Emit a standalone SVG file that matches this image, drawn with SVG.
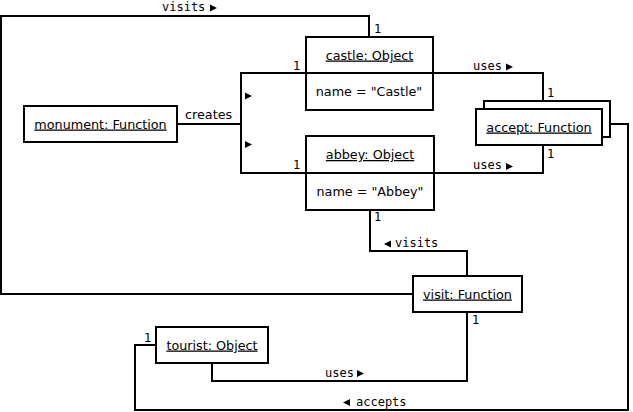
<svg xmlns="http://www.w3.org/2000/svg" width="633" height="412" viewBox="0 0 633 412">
<style>
.box{fill:#fff;stroke:#000;stroke-width:2}
.ln{fill:none;stroke:#000;stroke-width:2}
.t{font-family:"DejaVu Sans",sans-serif;font-size:12.75px;fill:#000}
.u{text-decoration:underline}
.m{font-family:"DejaVu Sans Mono",monospace;font-size:12px;fill:#000}
.a{fill:#000}
</style>
<rect width="633" height="412" fill="#fff"/>
<g id="connectors">
<polyline class="ln" points="369,37 369,16 1,16 1,294 412,294"/>
<polyline class="ln" points="177,124 241,124"/>
<polyline class="ln" points="306,73 241,73 241,173 306,173"/>
<polyline class="ln" points="433,73 543,73 543,101"/>
<polyline class="ln" points="434,173 543,173 543,145"/>
<polyline class="ln" points="370,210 370,251 467,251 467,276"/>
<polyline class="ln" points="467,312 467,381 212,381 212,363"/>
<polyline class="ln" points="156,345 135,345 135,410 628,410 628,124 610,124"/>
<text class="m" x="162" y="11">visits</text>
<polygon class="a" points="210,4.5 217,8 210,11.5"/>
<text class="m" x="374" y="33">1</text>
<text class="t" x="185" y="119">creates</text>
<polygon class="a" points="245,92.5 252,96 245,99.5"/>
<polygon class="a" points="245,141 252,144.5 245,148"/>
<text class="m" x="293" y="70">1</text>
<text class="m" x="293" y="169">1</text>
<text class="m" x="473" y="70">uses</text>
<polygon class="a" points="506,63.5 513,67 506,70.5"/>
<text class="m" x="547" y="97">1</text>
<text class="m" x="473" y="169">uses</text>
<polygon class="a" points="506,163 513,166.5 506,170"/>
<text class="m" x="547" y="158">1</text>
<text class="m" x="374" y="221">1</text>
<polygon class="a" points="391,240.5 384,244 391,247.5"/>
<text class="m" x="395" y="247">visits</text>
<text class="m" x="472" y="324">1</text>
<text class="m" x="325" y="377">uses</text>
<polygon class="a" points="357,370 364,373.5 357,377"/>
<text class="m" x="144" y="342">1</text>
<polygon class="a" points="350,399 343,402.5 350,406"/>
<text class="m" x="356" y="406">accepts</text>
</g>
<g id="monument">
<rect class="box" x="24" y="106" width="153" height="36"/>
<text class="t u" x="100.5" y="128.5" text-anchor="middle">monument: Function</text>
</g>
<g id="castle">
<rect class="box" x="306" y="37" width="127" height="73"/>
<line class="ln" x1="306" y1="73" x2="433" y2="73"/>
<text class="t u" x="369.5" y="59.5" text-anchor="middle">castle: Object</text>
<text class="t" x="369" y="96" text-anchor="middle">name = "Castle"</text>
</g>
<g id="abbey">
<rect class="box" x="306" y="136" width="128" height="74"/>
<line class="ln" x1="306" y1="173" x2="434" y2="173"/>
<text class="t u" x="370" y="159" text-anchor="middle">abbey: Object</text>
<text class="t" x="370" y="195.5" text-anchor="middle">name = "Abbey"</text>
</g>
<g id="accept">
<rect class="box" x="484" y="101" width="126" height="36"/>
<rect class="box" x="476" y="109" width="126" height="36"/>
<text class="t u" x="539" y="131.5" text-anchor="middle">accept: Function</text>
</g>
<g id="visit">
<rect class="box" x="413" y="276" width="109" height="36"/>
<text class="t u" x="467.5" y="298.5" text-anchor="middle">visit: Function</text>
</g>
<g id="tourist">
<rect class="box" x="156" y="327" width="112" height="36"/>
<text class="t u" x="212" y="349.5" text-anchor="middle">tourist: Object</text>
</g>
</svg>
